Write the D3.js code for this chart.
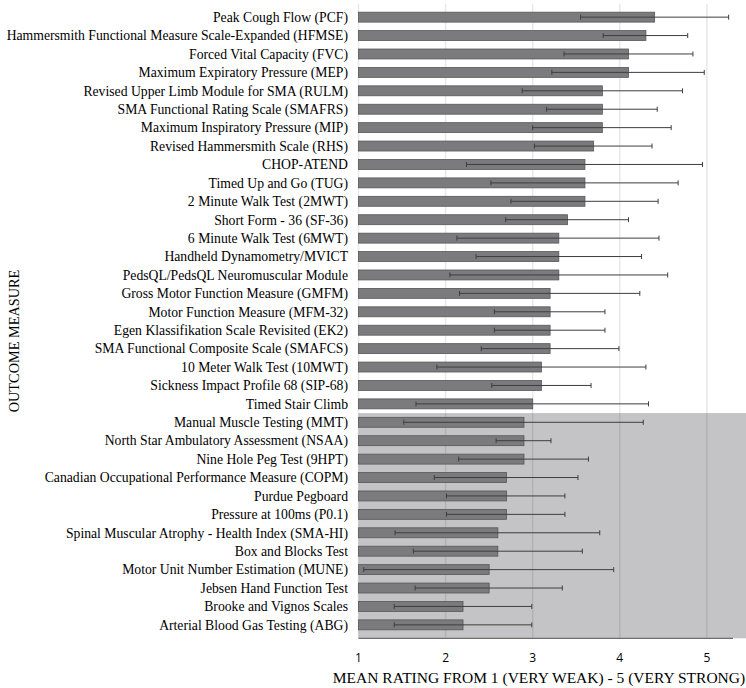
<!DOCTYPE html>
<html>
<head>
<meta charset="utf-8">
<script src="https://cdn.jsdelivr.net/npm/d3@7"></script>
<style>
  body { margin: 0; background: #fff; }
  #chart { width: 746px; height: 688px; }
</style>
</head>
<body>
<div id="chart"></div>
<script>
// outcome measures, top to bottom
const measures = [
    "Peak Cough Flow (PCF)",
    "Hammersmith Functional Measure Scale-Expanded (HFMSE)",
    "Forced Vital Capacity (FVC)",
    "Maximum Expiratory Pressure (MEP)",
    "Revised Upper Limb Module for SMA (RULM)",
    "SMA Functional Rating Scale (SMAFRS)",
    "Maximum Inspiratory Pressure (MIP)",
    "Revised Hammersmith Scale (RHS)",
    "CHOP-ATEND",
    "Timed Up and Go (TUG)",
    "2 Minute Walk Test (2MWT)",
    "Short Form - 36 (SF-36)",
    "6 Minute Walk Test (6MWT)",
    "Handheld Dynamometry/MVICT",
    "PedsQL/PedsQL Neuromuscular Module",
    "Gross Motor Function Measure (GMFM)",
    "Motor Function Measure (MFM-32)",
    "Egen Klassifikation Scale Revisited (EK2)",
    "SMA Functional Composite Scale (SMAFCS)",
    "10 Meter Walk Test (10MWT)",
    "Sickness Impact Profile 68 (SIP-68)",
    "Timed Stair Climb",
    "Manual Muscle Testing (MMT)",
    "North Star Ambulatory Assessment (NSAA)",
    "Nine Hole Peg Test (9HPT)",
    "Canadian Occupational Performance Measure (COPM)",
    "Purdue Pegboard",
    "Pressure at 100ms (P0.1)",
    "Spinal Muscular Atrophy - Health Index (SMA-HI)",
    "Box and Blocks Test",
    "Motor Unit Number Estimation (MUNE)",
    "Jebsen Hand Function Test",
    "Brooke and Vignos Scales",
    "Arterial Blood Gas Testing (ABG)"
];

const meanRating = [4.4, 4.3, 4.1, 4.1, 3.8, 3.8, 3.8, 3.7, 3.6, 3.6, 3.6, 3.4, 3.3, 3.3, 3.3,
    3.2, 3.2, 3.2, 3.2, 3.1, 3.1, 3.0, 2.9, 2.9, 2.9, 2.7, 2.7, 2.7, 2.6, 2.6, 2.5, 2.5, 2.2, 2.2];

const errLow = [3.55, 3.81, 3.36, 3.22, 2.88, 3.16, 3.0, 3.02, 2.24, 2.52, 2.75, 2.69, 2.13, 2.35, 2.05,
    2.16, 2.56, 2.56, 2.41, 1.9, 2.53, 1.66, 1.52, 2.58, 2.15, 1.87, 2.01, 2.01, 1.42, 1.63, 1.06, 1.65, 1.41, 1.41];

const errHigh = [5.25, 4.78, 4.84, 4.97, 4.72, 4.43, 4.59, 4.37, 4.95, 4.67, 4.44, 4.1, 4.45, 4.25, 4.55,
    4.23, 3.83, 3.83, 3.99, 4.3, 3.67, 4.33, 4.27, 3.21, 3.64, 3.52, 3.37, 3.37, 3.77, 3.57, 3.93, 3.34, 2.99, 2.99];

const xTicks = [1, 2, 3, 4, 5];
const shadedFrom = "Manual Muscle Testing (MMT)";

const data = measures.map((m, i) => ({ name: m, mean: meanRating[i], lo: errLow[i], hi: errHigh[i] }));

const width = 746, height = 688;
const serif = "'Liberation Serif', 'Times New Roman', Times, serif";

const svg = d3.select("#chart").append("svg")
    .attr("width", width)
    .attr("height", height);

const x = d3.scaleLinear().domain([1, 5.3]).range([358.5, 733]);
const y = d3.scaleBand().domain(measures).range([3.7, 638.3]).padding(0.46);

const plotBottom = y.range()[1];

// shaded band for lower rated measures
const shadeTop = y(shadedFrom) - y.step() * y.paddingInner() / 2;
svg.append("rect")
    .attr("x", x(1))
    .attr("y", shadeTop)
    .attr("width", width - x(1))
    .attr("height", plotBottom - shadeTop)
    .attr("fill", "#c4c4c6");

// gridlines
svg.selectAll(".grid")
    .data(xTicks)
    .enter().append("line")
    .attr("class", "grid")
    .attr("x1", d => x(d)).attr("x2", d => x(d))
    .attr("y1", y.range()[0]).attr("y2", plotBottom)
    .attr("stroke", "rgba(0,0,0,0.09)")
    .attr("stroke-width", 1.5);

// bars
svg.selectAll(".bar")
    .data(data)
    .enter().append("rect")
    .attr("class", "bar")
    .attr("x", x(1))
    .attr("y", d => y(d.name))
    .attr("width", d => x(d.mean) - x(1))
    .attr("height", y.bandwidth())
    .attr("fill", "#7b7b7d")
    .attr("stroke", "#56565a")
    .attr("stroke-width", 0.8);

// error bars
const err = svg.selectAll(".err")
    .data(data)
    .enter().append("g")
    .attr("class", "err")
    .attr("stroke", "#3e3e3e")
    .attr("stroke-width", 1);

err.append("line")
    .attr("x1", d => x(d.lo)).attr("x2", d => x(d.hi))
    .attr("y1", d => y(d.name) + y.bandwidth() / 2)
    .attr("y2", d => y(d.name) + y.bandwidth() / 2);

err.append("line")
    .attr("x1", d => x(d.lo)).attr("x2", d => x(d.lo))
    .attr("y1", d => y(d.name) + y.bandwidth() / 2 - 2.5)
    .attr("y2", d => y(d.name) + y.bandwidth() / 2 + 2.5);

err.append("line")
    .attr("x1", d => x(d.hi)).attr("x2", d => x(d.hi))
    .attr("y1", d => y(d.name) + y.bandwidth() / 2 - 2.5)
    .attr("y2", d => y(d.name) + y.bandwidth() / 2 + 2.5);

// axis line
svg.append("line")
    .attr("x1", x(1)).attr("x2", x(5.3))
    .attr("y1", plotBottom).attr("y2", plotBottom)
    .attr("stroke", "#6e6e6e")
    .attr("stroke-width", 1.2);

// category labels
svg.selectAll(".label")
    .data(measures)
    .enter().append("text")
    .attr("class", "label")
    .attr("x", 348)
    .attr("y", d => y(d) + y.bandwidth() / 2)
    .attr("dy", "0.35em")
    .attr("text-anchor", "end")
    .attr("font-family", serif)
    .attr("font-size", "13.7px")
    .attr("fill", "#000")
    .text(d => d);

// tick labels
svg.selectAll(".tick")
    .data(xTicks)
    .enter().append("text")
    .attr("class", "tick")
    .attr("x", d => x(d))
    .attr("y", 658)
    .attr("dy", "0.35em")
    .attr("text-anchor", "middle")
    .attr("font-family", "'Open Sans', sans-serif")
    .attr("font-size", "12px")
    .attr("fill", "#000")
    .text(d => d);

// axis titles
svg.append("text")
    .attr("x", 539)
    .attr("y", 678)
    .attr("dy", "0.35em")
    .attr("text-anchor", "middle")
    .attr("font-family", serif)
    .attr("font-size", "15.5px")
    .attr("fill", "#000")
    .text("MEAN RATING FROM 1 (VERY WEAK) - 5 (VERY STRONG)");

svg.append("text")
    .attr("transform", "translate(14,341) rotate(-90)")
    .attr("dy", "0.35em")
    .attr("text-anchor", "middle")
    .attr("font-family", serif)
    .attr("font-size", "14.3px")
    .attr("fill", "#000")
    .text("OUTCOME MEASURE");
</script>
</body>
</html>
